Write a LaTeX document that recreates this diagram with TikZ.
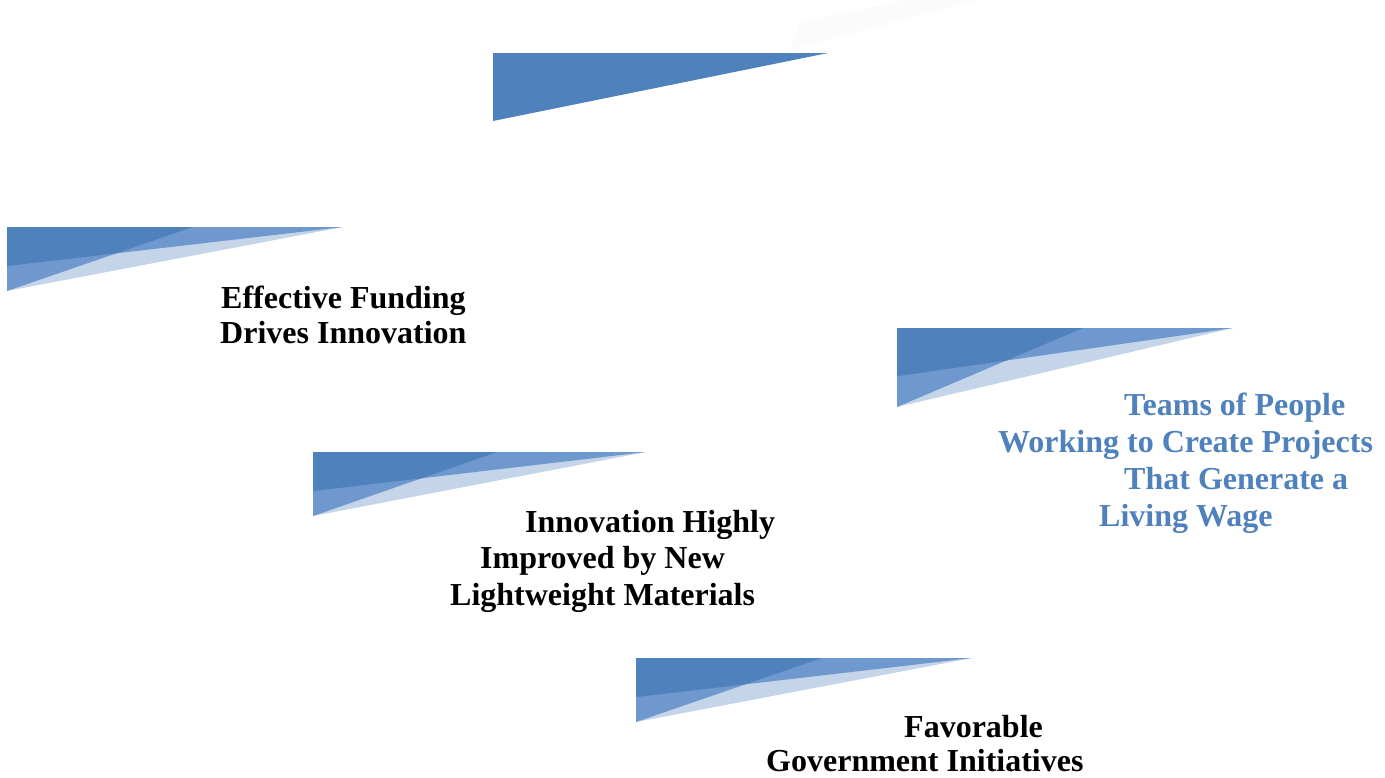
\documentclass[tikz,border=0pt]{standalone}
\usepackage{fontspec}
\setmainfont{Liberation Serif}
\definecolor{dkb}{HTML}{4F81BD}
\definecolor{mdb}{HTML}{6F98CE}
\definecolor{ltb}{HTML}{C5D5E9}
\definecolor{faint}{HTML}{FBFBFB}
\newcommand\wedgedeco[4]{%
  \begin{scope}[shift={(#1,#2)}]
    \fill[ltb] (0,0) -- (#3,0) -- (0,#4) -- cycle;
    \fill[mdb] (0,0) -- (#3,0) -- (0,{0.61*#4}) -- cycle;
    \fill[mdb] (0,0) -- ({0.553*#3},0) -- (0,#4) -- cycle;
    \fill[dkb] (0,0) -- ({0.553*#3},0) -- ({0.3255*#3},{0.411*#4}) -- (0,{0.61*#4}) -- cycle;
  \end{scope}}
\begin{document}
\begin{tikzpicture}[x=1pt,y=-1pt,
  lbl/.style={anchor=base west,inner sep=0pt,font=\bfseries\fontsize{32}{36}\selectfont},
  blk/.style={lbl,text=black},
  blu/.style={lbl,text=dkb}]
\useasboundingbox (0,0) rectangle (1385,777);
\fill[white] (0,0) rectangle (1385,777);
% faint shape at top
\fill[faint] (790,50) -- (977,0) -- (905,0) -- (800,22) -- cycle;
% top plain wedge
\fill[dkb] (493,53) -- (828,53) -- (493,121) -- cycle;
% layered wedges
\wedgedeco{7}{227}{336}{64}
\wedgedeco{897}{328}{336}{79}
\wedgedeco{313}{452}{333}{64}
\wedgedeco{636}{658}{336}{64}
% texts
\node[blk] (f1) at (221,308) {Effective Funding};
\node[blk] (f2) at (220,343) {Drives Innovation};
\node[blu] (t1) at (1124,415) {Teams of People};
\node[blu] (t2) at (998,452) {Working to Create Projects};
\node[blu] (t3) at (1124,489) {That Generate a};
\node[blu] (t4) at (1099,526) {Living Wage};
\node[blk] (i1) at (525,532) {Innovation Highly};
\node[blk] (i2) at (480,568) {Improved by New};
\node[blk] (i3) at (450,605) {Lightweight Materials};
\node[blk] (g1) at (904,737) {Favorable};
\node[blk] (g2) at (766,771) {Government Initiatives};
\end{tikzpicture}
\end{document}
